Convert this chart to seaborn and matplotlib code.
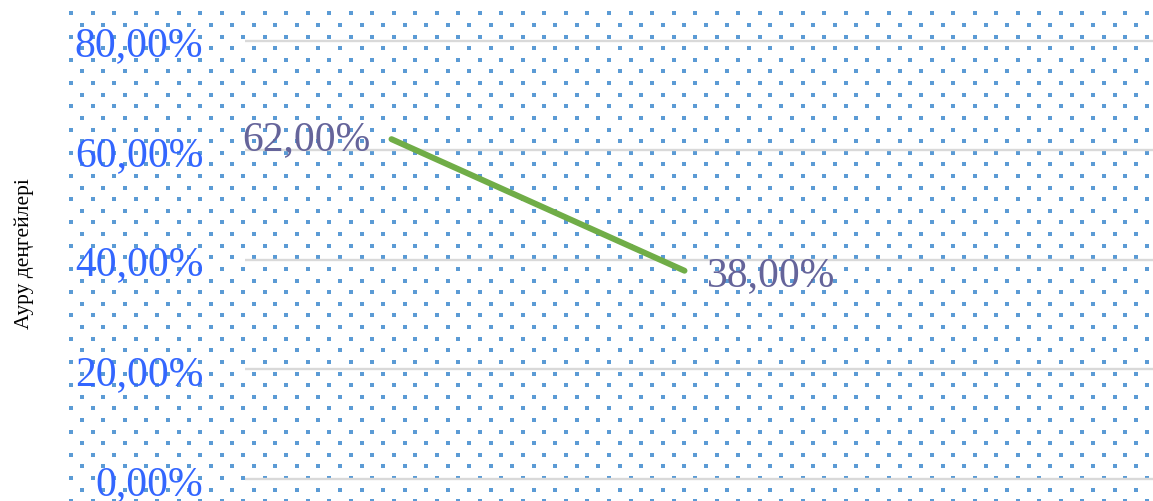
import numpy as np
import matplotlib
matplotlib.use("Agg")
import matplotlib.pyplot as plt
from matplotlib.ticker import FuncFormatter
import seaborn as sns

# Series data
positions = [0, 1]
rates = [0.62, 0.38]
y_ticks = [0.0, 0.2, 0.4, 0.6, 0.8]
y_title = "Ауру деңгейлері"

sns.set_theme(style="white")
plt.rcParams["font.family"] = ["Liberation Serif", "DejaVu Serif"]

W, H, DPI = 1153, 502, 100
fig = plt.figure(figsize=(W / DPI, H / DPI), dpi=DPI)
fig.patch.set_facecolor("white")

# Dotted pattern fill behind the plot area (pixel coordinates)
bg = fig.add_axes([0, 0, 1, 1], zorder=0)
bg.set_xlim(0, W)
bg.set_ylim(H, 0)
bg.axis("off")
row_step, col_step = 11.62, 21.52
xs, ys = [], []
for i, yy in enumerate(np.arange(14.3, H + 2, row_step)):
    x0 = 71.0 if i % 2 == 0 else 71.0 + col_step / 2
    for xx in np.arange(x0, W + 2, col_step):
        xs.append(xx)
        ys.append(yy)
bg.scatter(xs, ys, marker="s", s=4.7, color="#5B9BD5", linewidths=0)

# Main plot area
left = 245 / W
ax = fig.add_axes([left, 0, 1 - left, 1], zorder=1)
ax.patch.set_alpha(0)
px = 0.8 / (480 - 41.5)
ax.set_ylim(-(H - 480) * px, 480 * px)
ax.set_xlim(-0.5, -0.5 + (W - 245) / 293)

sns.lineplot(x=positions, y=rates, ax=ax, color="#70AD47", linewidth=4.3,
             solid_capstyle="round", zorder=3)

fmt = lambda v: f"{v * 100:.2f}%".replace(".", ",")
ax.set_yticks(y_ticks)
ax.yaxis.set_major_formatter(FuncFormatter(lambda v, _: fmt(v)))
ax.tick_params(axis="y", length=0, pad=30, labelsize=30, labelcolor="#3366FF")
ax.set_xticks([])
ax.grid(axis="y", color="#D9D9D9", linewidth=1.7)
ax.set_axisbelow(True)
for s in ax.spines.values():
    s.set_visible(False)

# Data labels
label_color = "#65649A"
ax.annotate(fmt(rates[0]), (positions[0], rates[0]), xytext=(-15, 0),
            textcoords="offset points", ha="right", va="center",
            fontsize=30, color=label_color)
ax.annotate(fmt(rates[1]), (positions[1], rates[1]), xytext=(16, -3),
            textcoords="offset points", ha="left", va="center",
            fontsize=30, color=label_color)

ax.set_ylabel(y_title, fontsize=15.5, color="black")
ax.yaxis.set_label_coords((34 - 245) / (W - 245), 1 - 254 / H)

fig.savefig("out.png", dpi=DPI)
